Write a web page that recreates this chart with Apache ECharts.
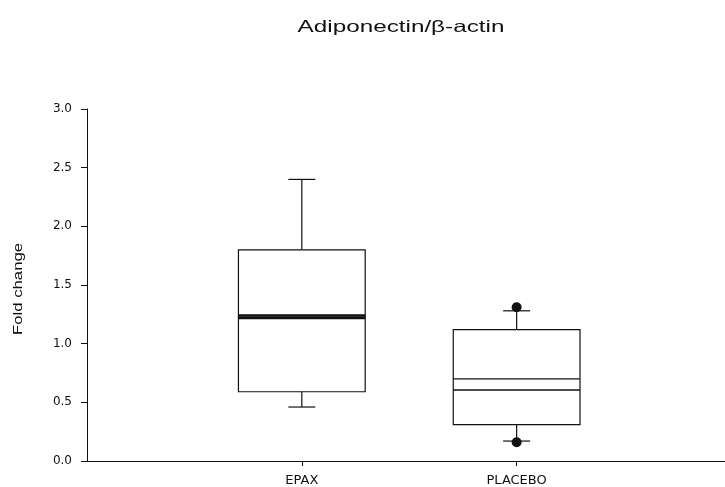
<!DOCTYPE html>
<html><head><meta charset="utf-8">
<script src="https://cdn.jsdelivr.net/npm/echarts@6/dist/echarts.min.js"></script>
<style>html,body{margin:0;padding:0;background:#fff}#c{width:725px;height:487px}</style>
</head><body><div id="c"></div>
<script>
const categories = ['EPAX', 'PLACEBO'];
const whiskerLow = [0.46, 0.17];
const q1 = [0.59, 0.31];
const medians = [1.22, 0.605];
const means = [1.24, 0.70];
const q3 = [1.80, 1.12];
const whiskerHigh = [2.40, 1.28];
const outlierCategory = ['PLACEBO', 'PLACEBO'];
const outlierValues = [1.31, 0.16];
const yTickLabels = ['0.0', '0.5', '1.0', '1.5', '2.0', '2.5', '3.0'];
const titleText = 'Adiponectin/β-actin';
const yAxisTitle = 'Fold change';

const boxRows = categories.map((c, i) => [i + 1, whiskerLow[i], q1[i], medians[i], means[i], q3[i], whiskerHigh[i]]);
const outlierRows = outlierCategory.map((c, i) => [categories.indexOf(c) + 1, outlierValues[i]]);

const FONT = '"Liberation Sans", Arial, sans-serif';
const WIDE = '"DejaVu Sans", sans-serif';
const chart = echarts.init(document.getElementById('c'), null, {renderer: 'canvas'});
chart.setOption({
  animation: false,
  backgroundColor: '#fff',
  graphic: [{
    type: 'text', x: 401, y: 27, scaleX: 1.47, z: 10,
    style: {text: titleText, font: '16.5px ' + FONT, fill: '#111', textAlign: 'center', textVerticalAlign: 'middle'}
  }, {
    type: 'text', x: 19, y: 289, rotation: Math.PI / 2, scaleX: 1.33, z: 10,
    style: {text: yAxisTitle, font: '12.6px ' + FONT, fill: '#111', textAlign: 'center', textVerticalAlign: 'middle'}
  }],
  grid: {left: 87, right: 0, top: 109, bottom: 26, containLabel: false},
  xAxis: {
    type: 'value', min: 0, max: 2.97, interval: 1,
    axisLine: {show: true, lineStyle: {color: '#111', width: 1}},
    axisTick: {show: true, customValues: [1, 2], length: 5, lineStyle: {color: '#111'}},
    axisLabel: {customValues: [1, 2], formatter: v => categories[Math.round(v) - 1] || '',
      fontFamily: WIDE, fontSize: 13, color: '#111', margin: 13},
    splitLine: {show: false}
  },
  yAxis: {
    type: 'value', min: 0, max: 3, interval: 0.5,
    axisLine: {show: true, lineStyle: {color: '#111', width: 1}},
    axisTick: {show: true, length: 6, lineStyle: {color: '#111'}},
    axisLabel: {formatter: v => yTickLabels[Math.round(v / 0.5)], fontFamily: WIDE, fontSize: 12, color: '#111', margin: 15},
    splitLine: {show: false}
  },
  series: [{
    type: 'custom',
    data: boxRows,
    encode: {x: 0, y: [1, 2, 3, 4, 5, 6]},
    renderItem: function (params, api) {
      const x = api.value(0);
      const half = api.size([0.59, 0])[0] / 2;
      const cap = 13.5;
      const p = k => api.coord([x, api.value(k)]);
      const lo = p(1), b1 = p(2), med = p(3), mn = p(4), b3 = p(5), hi = p(6);
      const cx = lo[0];
      const thick = params.dataIndex === 0 ? 2.7 : 1.4;
      const ls = {stroke: '#111', lineWidth: 1.2, fill: null};
      return {type: 'group', children: [
        {type: 'line', shape: {x1: cx, y1: b3[1], x2: cx, y2: hi[1]}, style: ls},
        {type: 'line', shape: {x1: cx - cap, y1: hi[1], x2: cx + cap, y2: hi[1]}, style: ls},
        {type: 'line', shape: {x1: cx, y1: b1[1], x2: cx, y2: lo[1]}, style: ls},
        {type: 'line', shape: {x1: cx - cap, y1: lo[1], x2: cx + cap, y2: lo[1]}, style: ls},
        {type: 'rect', shape: {x: cx - half, y: b3[1], width: half * 2, height: b1[1] - b3[1]}, style: {stroke: '#111', lineWidth: 1.2, fill: '#fff'}},
        {type: 'line', shape: {x1: cx - half, y1: med[1], x2: cx + half, y2: med[1]}, style: {stroke: '#111', lineWidth: thick}},
        {type: 'line', shape: {x1: cx - half, y1: mn[1], x2: cx + half, y2: mn[1]}, style: {stroke: '#111', lineWidth: thick}}
      ]};
    }
  }, {
    type: 'scatter',
    data: outlierRows,
    symbol: 'circle', symbolSize: 10,
    itemStyle: {color: '#111', opacity: 1},
    z: 5
  }]
});
</script>
</body></html>
